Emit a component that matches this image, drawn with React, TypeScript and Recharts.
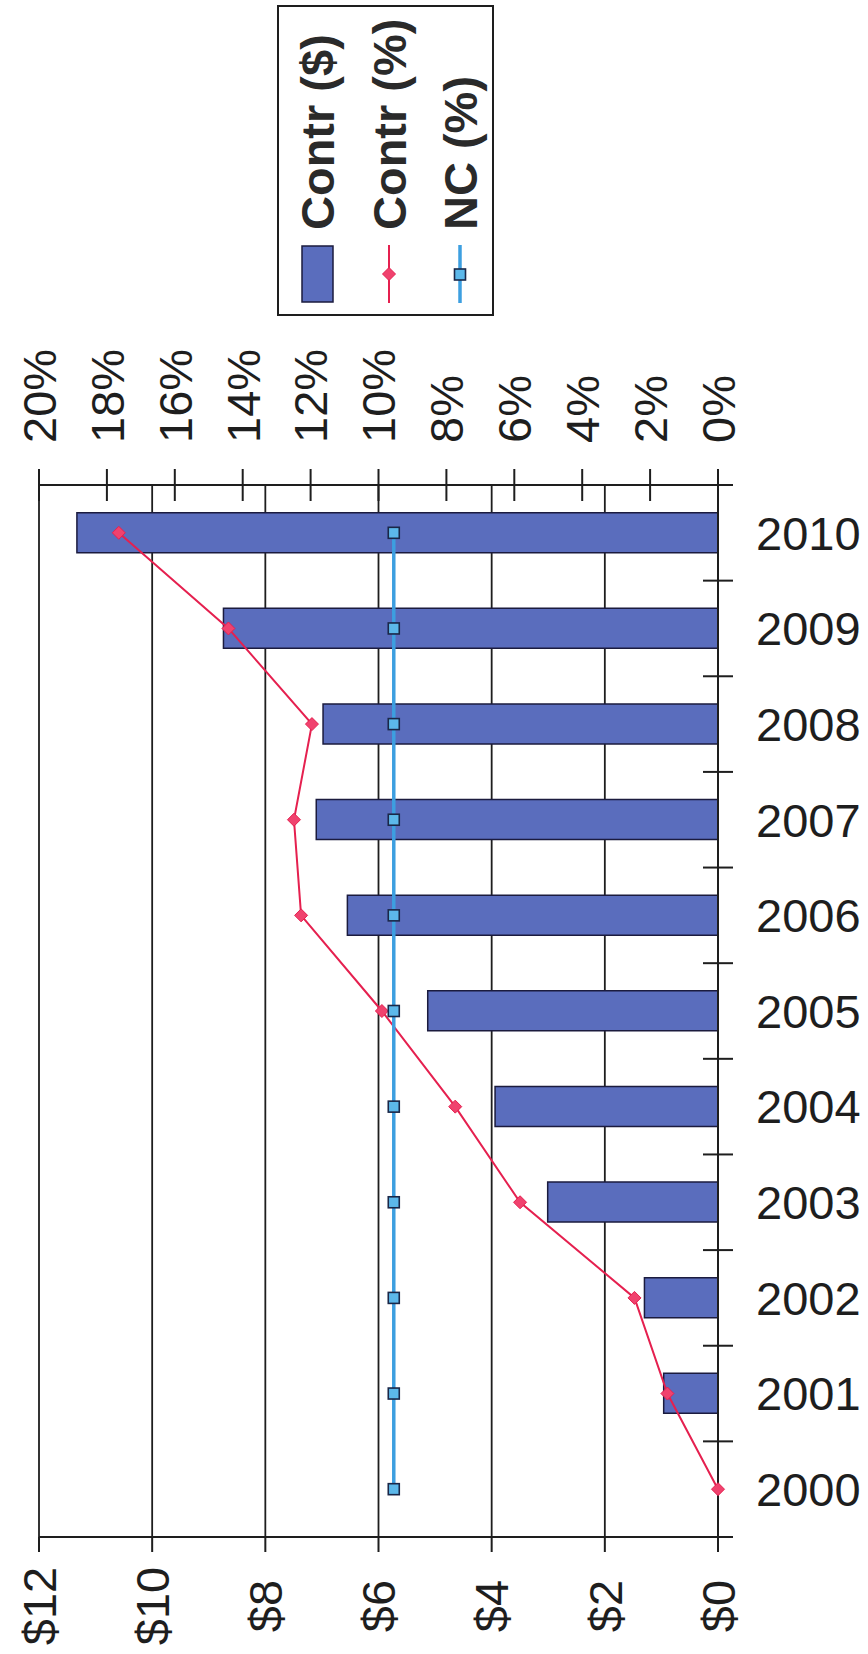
import { ComposedChart, Bar, Line, XAxis, YAxis, CartesianGrid } from "recharts";

const YEARS = ["2000", "2001", "2002", "2003", "2004", "2005", "2006", "2007", "2008", "2009", "2010"];
const CONTR_USD = [0, 0.96, 1.3, 3.01, 3.94, 5.13, 6.55, 7.1, 6.98, 8.74, 11.33];
const CONTR_PCT = [0, 1.49, 2.46, 5.83, 7.74, 9.9, 12.28, 12.49, 11.96, 14.42, 17.65];
const NC_PCT = [9.55, 9.55, 9.55, 9.55, 9.55, 9.55, 9.55, 9.55, 9.55, 9.55, 9.55];
const USD_TICKS = [0, 2, 4, 6, 8, 10, 12];
const PCT_TICKS = [0, 2, 4, 6, 8, 10, 12, 14, 16, 18, 20];
const SERIES_NAMES = ["Contr ($)", "Contr (%)", "NC (%)"];

const data = YEARS.map((year, i) => ({
  year,
  contrUsd: CONTR_USD[i],
  contrPct: CONTR_PCT[i],
  ncPct: NC_PCT[i],
}));

// chart is laid out as a normal column chart, then turned on its side
const W = 1654;
const H = 868;
const MARGIN = { top: 39, right: 365, bottom: 0, left: 0 };
const LEFT_AXIS_W = 117;
const RIGHT_AXIS_W = 120;
const X_AXIS_H = 150;
const PLOT_W = W - MARGIN.left - MARGIN.right - LEFT_AXIS_W - RIGHT_AXIS_W;
const BAND = PLOT_W / YEARS.length;

const FONT = "'Liberation Sans', Arial, Helvetica, sans-serif";
const INK = "#1e1e1e";
const FS = 47;
const CAP = FS * 0.716;

const BAR_FILL = "#5a6dbd";
const BAR_EDGE = "#1b1b3e";
const RED = "#e5204f";
const RED_DOT = "#f0426e";
const BLUE = "#3d9fe0";
const BLUE_DOT = "#5cb8ea";
const BLUE_EDGE = "#1a2748";

function YearTick({ x, y, payload, index }: any) {
  const edge = x - BAND / 2;
  return (
    <g>
      <line x1={edge} x2={edge} y1={y - 15} y2={y + 15} stroke={INK} strokeWidth={2} />
      {index === YEARS.length - 1 && (
        <line x1={x + BAND / 2} x2={x + BAND / 2} y1={y - 15} y2={y + 15} stroke={INK} strokeWidth={2} />
      )}
      <text
        transform={`translate(${x - CAP / 2}, ${y + 38}) rotate(90)`}
        fontSize={FS}
        fontFamily={FONT}
        fill={INK}
      >
        {payload.value}
      </text>
    </g>
  );
}

function UsdTick({ y, payload }: any) {
  return (
    <text x={48} y={y + CAP / 2} textAnchor="middle" fontSize={FS} fontFamily={FONT} fill={INK}>
      ${payload.value}
    </text>
  );
}

function PctTick({ x, y, payload }: any) {
  return (
    <g>
      <line x1={x - 16} x2={x + 16} y1={y} y2={y} stroke={INK} strokeWidth={2} />
      <text x={x + 42} y={y + CAP / 2} fontSize={FS} fontFamily={FONT} fill={INK}>
        {payload.value}%
      </text>
    </g>
  );
}

const diamond = (cx: number, cy: number, r: number) =>
  `M${cx},${cy - r} L${cx + r},${cy} L${cx},${cy + r} L${cx - r},${cy} Z`;

function RedDot(p: any) {
  if (p.cx == null || p.cy == null) return <g key={p.index} />;
  return <path key={p.index} d={diamond(p.cx, p.cy, 6.5)} fill={RED_DOT} stroke={RED} strokeWidth={1} />;
}

function BlueDot(p: any) {
  if (p.cx == null || p.cy == null) return <g key={p.index} />;
  return (
    <rect key={p.index} x={p.cx - 5.5} y={p.cy - 5.5} width={11} height={11} fill={BLUE_DOT} stroke={BLUE_EDGE} strokeWidth={1.6} />
  );
}

function LegendBox() {
  const rows = [40.5, 112, 183];
  return (
    <svg
      width={311}
      height={217}
      style={{ position: "absolute", left: 1338, top: 277, overflow: "visible" }}
    >
      <rect x={1} y={1} width={309} height={215} fill="#fff" stroke={INK} strokeWidth={2} />
      <rect x={14} y={rows[0] - 15.5} width={56} height={31} fill={BAR_FILL} stroke={BAR_EDGE} strokeWidth={1.5} />
      <line x1={13} x2={71} y1={rows[1]} y2={rows[1]} stroke={RED} strokeWidth={2} />
      <path d={diamond(42, rows[1], 6.5)} fill={RED_DOT} stroke={RED} strokeWidth={1} />
      <line x1={13} x2={71} y1={rows[2]} y2={rows[2]} stroke={BLUE} strokeWidth={3.5} />
      <rect x={36} y={rows[2] - 5.5} width={11} height={11} fill={BLUE_DOT} stroke={BLUE_EDGE} strokeWidth={1.6} />
      {SERIES_NAMES.map((name, i) => (
        <text key={name} x={86} y={rows[i] + CAP / 2} fontSize={FS} fontWeight="bold" fontFamily={FONT} fill="#2a2a2a">
          {name}
        </text>
      ))}
    </svg>
  );
}

export default function App() {
  return (
    <div style={{ position: "absolute", left: 0, top: 0, width: H, height: W, overflow: "hidden", background: "#fff" }}>
      <div
        style={{
          position: "absolute",
          left: 0,
          top: 0,
          width: W,
          height: H,
          transformOrigin: "0 0",
          transform: `translate(0px, ${W}px) rotate(-90deg)`,
        }}
      >
        <ComposedChart width={W} height={H} data={data} margin={MARGIN} barSize={40}>
          <CartesianGrid horizontal vertical={false} stroke={INK} strokeWidth={1.8} />
          <XAxis
            dataKey="year"
            height={X_AXIS_H}
            interval={0}
            tickSize={0}
            tickMargin={0}
            tickLine={false}
            tick={<YearTick />}
            axisLine={{ stroke: INK, strokeWidth: 2 }}
          />
          <YAxis
            width={LEFT_AXIS_W}
            domain={[0, 12]}
            ticks={USD_TICKS}
            tickSize={15}
            tickMargin={0}
            tickLine={{ stroke: INK, strokeWidth: 2 }}
            tick={<UsdTick />}
            axisLine={{ stroke: INK, strokeWidth: 2 }}
          />
          <YAxis
            yAxisId="pct"
            orientation="right"
            width={RIGHT_AXIS_W}
            domain={[0, 20]}
            ticks={PCT_TICKS}
            tickSize={0}
            tickMargin={0}
            tickLine={false}
            tick={<PctTick />}
            axisLine={{ stroke: INK, strokeWidth: 2 }}
          />
          <Bar dataKey="contrUsd" name={SERIES_NAMES[0]} fill={BAR_FILL} stroke={BAR_EDGE} strokeWidth={1.5} isAnimationActive={false} />
          <Line
            yAxisId="pct"
            dataKey="contrPct"
            name={SERIES_NAMES[1]}
            type="linear"
            stroke={RED}
            strokeWidth={2}
            dot={RedDot}
            activeDot={false}
            isAnimationActive={false}
          />
          <Line
            yAxisId="pct"
            dataKey="ncPct"
            name={SERIES_NAMES[2]}
            type="linear"
            stroke={BLUE}
            strokeWidth={3.5}
            dot={BlueDot}
            activeDot={false}
            isAnimationActive={false}
          />
        </ComposedChart>
        <LegendBox />
      </div>
    </div>
  );
}
